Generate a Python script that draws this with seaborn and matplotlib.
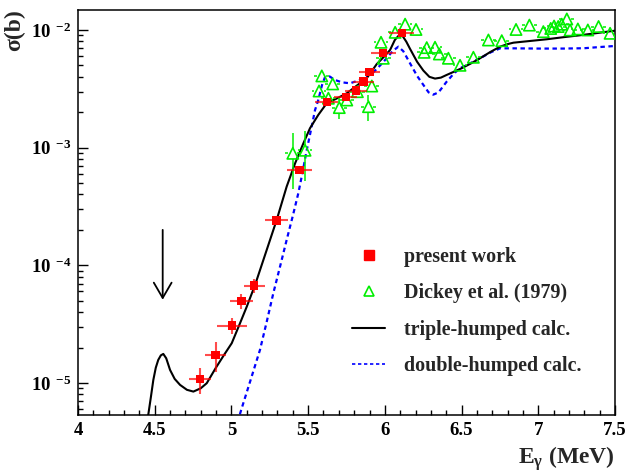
import numpy as np
import pandas as pd
import seaborn as sns
import matplotlib
matplotlib.use("Agg")
import matplotlib.pyplot as plt
from matplotlib.ticker import FuncFormatter, LogLocator, MultipleLocator, NullFormatter
from matplotlib.lines import Line2D
from matplotlib.legend_handler import HandlerLine2D

# ---- measured cross sections: present work ----
pw_energy = [4.795, 4.897, 5.002, 5.065, 5.149, 5.293, 5.443,
             5.621, 5.745, 5.812, 5.860, 5.899, 5.990, 6.110]
pw_sigma = [1.08e-5, 1.73e-5, 3.08e-5, 4.99e-5, 6.73e-5, 2.41e-4, 6.43e-4,
            2.43e-3, 2.68e-3, 3.05e-3, 3.64e-3, 4.37e-3, 6.34e-3, 9.37e-3]
pw_energy_err = [0.070, 0.067, 0.098, 0.076, 0.070, 0.074, 0.080,
                 0.075, 0.075, 0.070, 0.070, 0.070, 0.080, 0.080]
pw_rel_err = [0.25, 0.28, 0.15, 0.15, 0.14, 0.05, 0.05,
              0.05, 0.05, 0.05, 0.05, 0.05, 0.05, 0.05]

# ---- Dickey et al. (1979) ----
dk_energy = [5.400, 5.480, 5.571, 5.589, 5.632, 5.660, 5.703, 5.752, 5.821,
             5.893, 5.915, 5.975, 5.990, 6.067, 6.132, 6.203, 6.256, 6.273,
             6.327, 6.355, 6.414, 6.490, 6.577, 6.675, 6.762, 6.855, 6.942,
             7.033, 7.081, 7.103, 7.130, 7.153, 7.186, 7.207, 7.258, 7.323,
             7.393, 7.468]
dk_sigma = [8.95e-4, 9.50e-4, 3.03e-3, 4.07e-3, 2.63e-3, 3.48e-3, 2.19e-3,
            2.54e-3, 2.99e-3, 2.23e-3, 3.34e-3, 7.86e-3, 5.75e-3, 9.55e-3,
            1.12e-2, 1.01e-2, 6.46e-3, 7.08e-3, 7.13e-3, 6.25e-3, 5.75e-3,
            5.01e-3, 5.86e-3, 8.22e-3, 8.11e-3, 1.01e-2, 1.10e-2, 9.68e-3,
            1.03e-2, 1.08e-2, 1.07e-2, 1.12e-2, 1.24e-2, 1.00e-2, 1.02e-2,
            1.00e-2, 1.07e-2, 9.37e-3]
dk_rel_err = [0.50, 0.45, 0.10, 0.10, 0.10, 0.10, 0.20, 0.10, 0.10,
              0.25, 0.10, 0.10, 0.10, 0.10, 0.10, 0.10, 0.10, 0.10,
              0.10, 0.10, 0.10, 0.10, 0.10, 0.10, 0.10, 0.10, 0.10,
              0.10, 0.10, 0.10, 0.10, 0.10, 0.10, 0.10, 0.10, 0.10,
              0.10, 0.10]
dk_energy_err = 0.048

# ---- calculations (log10 of sigma in barn) ----
triple_energy = [4.445, 4.458, 4.475, 4.491, 4.507, 4.523, 4.540, 4.556, 4.575,
                 4.600, 4.630, 4.665, 4.710, 4.752, 4.800, 4.839, 4.897, 4.950,
                 5.002, 5.056, 5.100, 5.154, 5.230, 5.295, 5.360, 5.415, 5.469,
                 5.512, 5.566, 5.621, 5.690, 5.752, 5.820, 5.882, 5.947, 6.000,
                 6.034, 6.065, 6.092, 6.115, 6.140, 6.164, 6.210, 6.251, 6.290,
                 6.327, 6.365, 6.403, 6.450, 6.501, 6.560, 6.621, 6.690, 6.751,
                 6.800, 6.838, 6.950, 7.055, 7.160, 7.272, 7.390, 7.500]
triple_log_sigma = [-5.40, -5.27, -5.12, -4.974, -4.87, -4.804, -4.765, -4.753,
                    -4.790, -4.889, -4.965, -5.016, -5.058, -5.073, -5.045,
                    -5.002, -4.874, -4.765, -4.662, -4.492, -4.351, -4.167,
                    -3.869, -3.614, -3.331, -3.133, -2.963, -2.835, -2.722,
                    -2.623, -2.580, -2.538, -2.470, -2.410, -2.290, -2.220,
                    -2.170, -2.085, -2.045, -2.050, -2.100, -2.160, -2.270,
                    -2.345, -2.398, -2.413, -2.405, -2.382, -2.355, -2.325,
                    -2.285, -2.240, -2.185, -2.142, -2.120, -2.108, -2.093,
                    -2.079, -2.062, -2.045, -2.025, -2.006]

double_energy = [5.040, 5.067, 5.126, 5.186, 5.230, 5.273, 5.317, 5.360, 5.400,
                 5.436, 5.465, 5.491, 5.520, 5.545, 5.566, 5.590, 5.610, 5.640,
                 5.675, 5.720, 5.773, 5.838, 5.880, 5.925, 5.970, 6.012, 6.050,
                 6.088, 6.120, 6.164, 6.210, 6.251, 6.285, 6.315, 6.350, 6.403,
                 6.450, 6.490, 6.560, 6.621, 6.690, 6.751, 6.838, 7.000, 7.164,
                 7.300, 7.400, 7.500]
double_log_sigma = [-5.33, -5.215, -4.97, -4.719, -4.48, -4.237, -4.01, -3.784,
                    -3.58, -3.387, -3.20, -3.020, -2.84, -2.680, -2.595, -2.47,
                    -2.40, -2.395, -2.425, -2.445, -2.453, -2.425, -2.39, -2.36,
                    -2.30, -2.240, -2.18, -2.142, -2.18, -2.283, -2.39, -2.467,
                    -2.53, -2.550, -2.53, -2.439, -2.37, -2.325, -2.28, -2.240,
                    -2.19, -2.156, -2.156, -2.158, -2.158, -2.155, -2.145, -2.136]

# arrow marking the outer-barrier resonance
arrow_energy = 4.552
arrow_sigma_top = 2.0e-4
arrow_sigma_tip = 5.1e-5

legend_labels = ["present work", "Dickey et al. (1979)",
                 "triple-humped calc.", "double-humped calc."]

RED = "#ff0000"
GREEN = "#00ee00"
BLUE = "#0000ff"

sns.set_style("ticks")
plt.rcParams["font.family"] = ["Liberation Serif", "DejaVu Serif"]
plt.rcParams.update({
    "font.weight": "bold",
    "axes.labelweight": "bold",
    "mathtext.fontset": "custom",
    "mathtext.rm": "Liberation Serif:bold",
    "mathtext.bf": "Liberation Serif:bold",
    "mathtext.it": "Liberation Serif:italic",
    "axes.linewidth": 1.1,
    "axes.edgecolor": "black",
})

fig = plt.figure(figsize=(6.31, 4.76), dpi=100)
ax = fig.add_axes([78 / 631, 1 - 415 / 476, (615 - 78) / 631, (415 - 9.5) / 476])
ax.set_yscale("log")
ax.set_xlim(4.0, 7.5)
ax.set_ylim(10 ** -5.272, 10 ** -1.826)

# calculated curves
curves = pd.DataFrame({"E": triple_energy, "sigma": np.power(10.0, triple_log_sigma)})
sns.lineplot(data=curves, x="E", y="sigma", ax=ax, color="black", lw=1.5,
             sort=False, estimator=None, zorder=3)
curves2 = pd.DataFrame({"E": double_energy, "sigma": np.power(10.0, double_log_sigma)})
sns.lineplot(data=curves2, x="E", y="sigma", ax=ax, color=BLUE, lw=1.6,
             linestyle=(0, (2.0, 1.6)), sort=False, estimator=None, zorder=2)

# Dickey et al.: open triangles with error bars leaving a gap around the marker
dk_E = np.array(dk_energy)
dk_s = np.array(dk_sigma)
dk_e = np.array(dk_rel_err)
gap_x = 0.030
ax.hlines(dk_s, dk_E - dk_energy_err, dk_E - gap_x, color=GREEN, lw=1.1, zorder=4)
ax.hlines(dk_s, dk_E + gap_x, dk_E + dk_energy_err, color=GREEN, lw=1.1, zorder=4)
gap_y = 10 ** 0.045
big = dk_s * (1 + dk_e) > dk_s * gap_y
ax.vlines(dk_E[big], dk_s[big] * gap_y, dk_s[big] * (1 + dk_e[big]), color=GREEN, lw=1.1, zorder=4)
low = dk_s * (1 - dk_e) < dk_s / gap_y
ax.vlines(dk_E[low], dk_s[low] * (1 - dk_e[low]), dk_s[low] / gap_y, color=GREEN, lw=1.1, zorder=4)
sns.scatterplot(x=dk_E, y=dk_s, ax=ax, marker="^", s=66, facecolors="none",
                edgecolor=GREEN, linewidth=1.2, zorder=5)

# present work: red squares with error bars
pw_E = np.array(pw_energy)
pw_s = np.array(pw_sigma)
ax.errorbar(pw_E, pw_s, xerr=pw_energy_err, yerr=pw_s * np.array(pw_rel_err),
            fmt="none", ecolor=(1, 0, 0, 0.7), elinewidth=1.5, capsize=0, zorder=6)
sns.scatterplot(x=pw_E, y=pw_s, ax=ax, marker="s", s=36, color=RED,
                edgecolor="none", linewidth=0, zorder=7)

ax.annotate("", xy=(arrow_energy, arrow_sigma_tip), xytext=(arrow_energy, arrow_sigma_top),
            arrowprops=dict(arrowstyle="->,head_length=0.55,head_width=0.32",
                            color="black", lw=1.3, mutation_scale=20,
                            shrinkA=0, shrinkB=0))

# axes, ticks and labels
ax.xaxis.set_major_locator(MultipleLocator(0.5))
ax.xaxis.set_minor_locator(MultipleLocator(0.1))
ax.xaxis.set_major_formatter(FuncFormatter(lambda v, p: f"{v:g}"))
ax.yaxis.set_major_locator(LogLocator(base=10))
ax.yaxis.set_minor_locator(LogLocator(base=10, subs=np.arange(2, 10)))
ax.yaxis.set_minor_formatter(NullFormatter())
ax.yaxis.set_major_formatter(
    FuncFormatter(lambda v, p: r"$\mathbf{10}^{\;\;\mathbf{%d}}$" % round(np.log10(v))))
ax.tick_params(which="both", direction="in", top=False, right=False,
               colors="black", width=1.0)
ax.tick_params(which="major", length=7.5, labelsize=13.5, pad=5)
ax.tick_params(which="minor", length=3.8)

ax.set_xlabel(r"E$_{\mathregular{\gamma}}$ (MeV)", loc="right", fontsize=17, labelpad=4)
ax.set_ylabel("σ(b)", loc="top", fontsize=17, labelpad=4)


class EndMarkerHandler(HandlerLine2D):
    def get_xdata(self, legend, xdescent, ydescent, width, height, fontsize):
        xdata, _ = super().get_xdata(legend, xdescent, ydescent, width, height, fontsize)
        return xdata, np.array([-xdescent + width])


h_pw = Line2D([], [], marker="s", ls="none", color=RED, markersize=6.5)
h_dk = Line2D([], [], marker="^", ls="none", mec=GREEN, mfc="none", mew=1.2, markersize=7)
h_tr = Line2D([], [], color="black", lw=1.5)
h_db = Line2D([], [], color=BLUE, lw=1.2, ls=(0, (2.0, 1.6)))
ax.legend([h_pw, h_dk, h_tr, h_db], legend_labels,
          handler_map={h_pw: EndMarkerHandler(), h_dk: EndMarkerHandler()},
          loc="upper left", bbox_to_anchor=(352 / 631, 1 - 247 / 476),
          bbox_transform=fig.transFigure, frameon=False, fontsize=14.4,
          handlelength=1.65, handletextpad=0.95, labelspacing=0.82,
          borderpad=0, borderaxespad=0)

fig.savefig("out.png", dpi=100)
